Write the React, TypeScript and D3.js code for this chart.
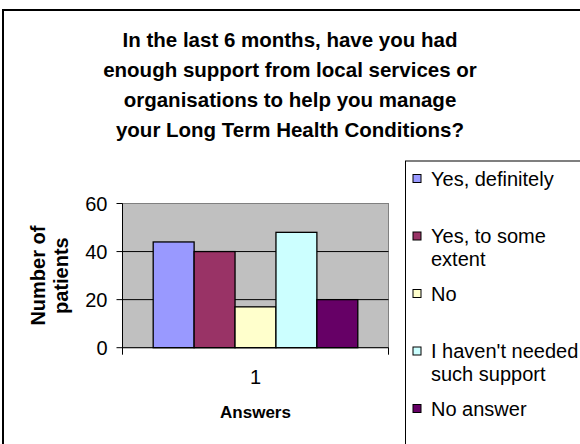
import React from "react";
import * as d3 from "d3";

const categories = ["1"];
const seriesNames = [
  "Yes, definitely",
  "Yes, to some extent",
  "No",
  "I haven't needed such support",
  "No answer",
];
const seriesValues = [44, 40, 17, 48, 20];
const seriesColors = ["#9999FF", "#993366", "#FFFFCC", "#CCFFFF", "#660066"];
const legendLines = [
  ["Yes, definitely"],
  ["Yes, to some", "extent"],
  ["No"],
  ["I haven't needed", "such support"],
  ["No answer"],
];
const yTicks = [0, 20, 40, 60];
const titleLines = [
  "In the last 6 months, have you had",
  "enough support from local services or",
  "organisations to help you manage",
  "your Long Term Health Conditions?",
];

const W = 580;
const H = 444;
const FONT = "Liberation Sans, Arial, sans-serif";

export default function App() {
  React.useEffect(() => {
    document.body.style.margin = "0";
  }, []);

  const plot = { left: 122.5, right: 388.5, top: 203.5, bottom: 347.7 };
  const y = d3.scaleLinear().domain([0, 60]).range([plot.bottom, plot.top]);
  const x0 = d3
    .scaleBand<string>()
    .domain(categories)
    .range([plot.left, plot.right])
    .paddingInner(0)
    .paddingOuter(0);
  // Excel gap width 150%: group = 5 bars, gap = 1.5 bars
  const bw0 = x0.bandwidth();
  const barW = bw0 / (seriesNames.length + 1.5);
  const groupStart = (x0(categories[0]) as number) + (bw0 - barW * seriesNames.length) / 2;
  const x1 = d3
    .scaleBand<string>()
    .domain(seriesNames)
    .range([groupStart, groupStart + barW * seriesNames.length]);

  const legendX = 405.5;
  const legendY = 161;
  const entryStep = 57.5;
  const lineStep = 23;

  return (
    <svg
      width={W}
      height={H}
      style={{ position: "absolute", left: 0, top: 0, background: "#fff" }}
      fontFamily={FONT}
    >
      <rect x={0} y={0} width={W} height={H} fill="#fff" />
      {/* outer chart border */}
      <rect x={3} y={10} width={W + 20} height={H + 20} fill="none" stroke="#000" strokeWidth={2} />

      {/* title */}
      {titleLines.map((t, i) => (
        <text
          key={i}
          x={290}
          y={47 + i * 30}
          textAnchor="middle"
          fontSize={20.5}
          fontWeight="bold"
          fill="#000"
        >
          {t}
        </text>
      ))}

      {/* plot area */}
      <rect
        x={plot.left}
        y={plot.top}
        width={plot.right - plot.left}
        height={plot.bottom - plot.top}
        fill="#C0C0C0"
        stroke="#808080"
        strokeWidth={1}
      />
      {yTicks
        .filter((t) => t > 0 && t < 60)
        .map((t) => (
          <line
            key={t}
            x1={plot.left}
            x2={plot.right}
            y1={y(t)}
            y2={y(t)}
            stroke="#000"
            strokeWidth={1}
          />
        ))}

      {/* bars */}
      {seriesNames.map((s, i) => (
        <rect
          key={s}
          x={x1(s)}
          y={y(seriesValues[i])}
          width={x1.bandwidth()}
          height={y(0) - y(seriesValues[i])}
          fill={seriesColors[i]}
          stroke="#000"
          strokeWidth={1.3}
        />
      ))}

      {/* axes */}
      <line x1={plot.left} x2={plot.left} y1={plot.top} y2={plot.bottom} stroke="#000" strokeWidth={1} />
      <line x1={plot.left} x2={plot.right} y1={plot.bottom} y2={plot.bottom} stroke="#000" strokeWidth={1} />
      {yTicks.map((t) => (
        <g key={t}>
          <line x1={plot.left - 6} x2={plot.left} y1={y(t)} y2={y(t)} stroke="#000" strokeWidth={1} />
          <text x={plot.left - 15} y={y(t) + 7} textAnchor="end" fontSize={20} fill="#000">
            {t}
          </text>
        </g>
      ))}
      {[plot.left, plot.right].map((xx, i) => (
        <line key={i} x1={xx} x2={xx} y1={plot.bottom} y2={plot.bottom + 7} stroke="#000" strokeWidth={1} />
      ))}
      {categories.map((c) => (
        <text
          key={c}
          x={(x0(c) as number) + bw0 / 2}
          y={384}
          textAnchor="middle"
          fontSize={20}
          fill="#000"
        >
          {c}
        </text>
      ))}
      <text x={(plot.left + plot.right) / 2} y={418} textAnchor="middle" fontSize={17} fontWeight="bold">
        Answers
      </text>
      <text
        transform={`translate(45, ${(plot.top + plot.bottom) / 2}) rotate(-90)`}
        textAnchor="middle"
        fontSize={20}
        fontWeight="bold"
      >
        Number of
      </text>
      <text
        transform={`translate(67.5, ${(plot.top + plot.bottom) / 2}) rotate(-90)`}
        textAnchor="middle"
        fontSize={20}
        fontWeight="bold"
      >
        patients
      </text>

      {/* legend */}
      <rect x={legendX} y={legendY} width={W} height={H} fill="#fff" stroke="#000" strokeWidth={1} />
      {legendLines.map((lines, i) => {
        const cy = 178.5 + i * entryStep;
        return (
          <g key={i}>
            <rect
              x={413}
              y={cy - 4}
              width={8}
              height={8}
              fill={seriesColors[i]}
              stroke="#000"
              strokeWidth={1}
            />
            {lines.map((l, j) => (
              <text key={j} x={431} y={cy + 7 + j * lineStep} fontSize={20} fill="#000">
                {l}
              </text>
            ))}
          </g>
        );
      })}
    </svg>
  );
}
